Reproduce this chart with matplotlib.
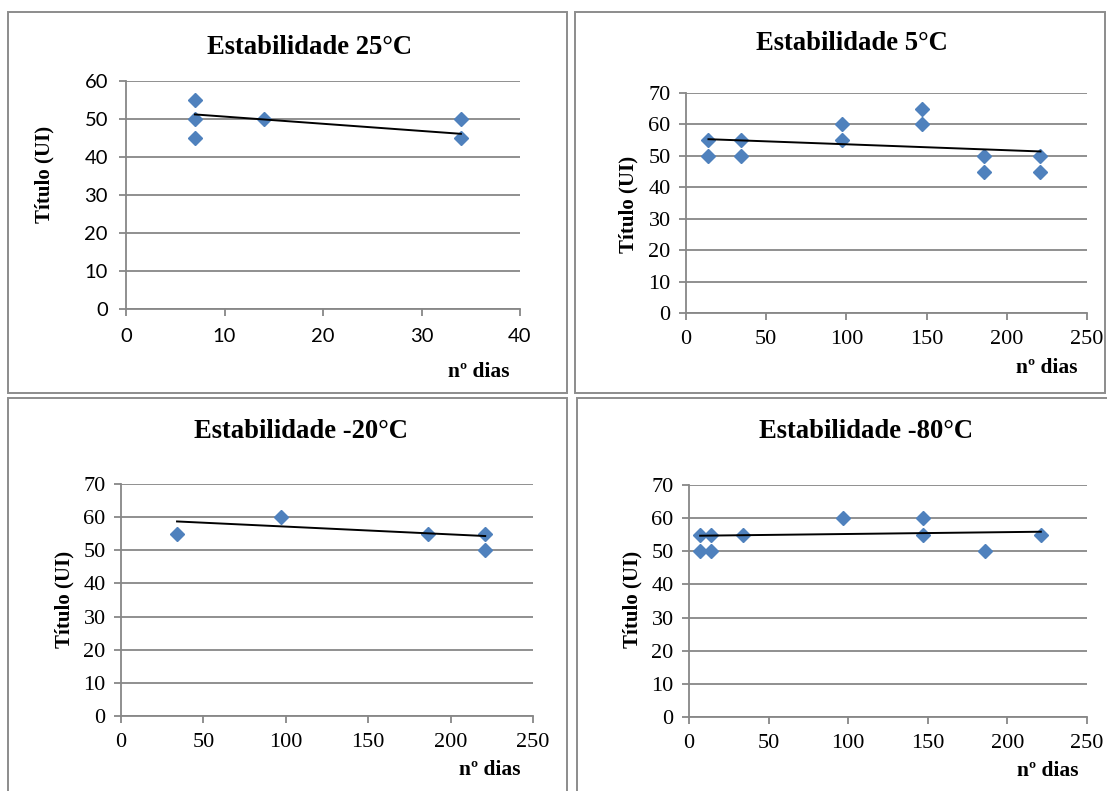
import matplotlib
matplotlib.use("Agg")
import matplotlib.pyplot as plt
from matplotlib.patches import Rectangle

# ---------------- data ----------------
titles = ["Estabilidade 25°C", "Estabilidade 5°C", "Estabilidade -20°C", "Estabilidade -80°C"]
ylabel = "Título (UI)"
xlabel = "nº dias"

x25 = [7, 7, 7, 14, 34, 34]
y25 = [55, 50, 45, 50, 50, 45]
trend25_x = [7, 34]
trend25_y = [51.2, 46.1]

x5 = [14, 14, 34, 34, 97, 97, 147, 147, 186, 186, 221, 221]
y5 = [55, 50, 55, 50, 60, 55, 65, 60, 50, 45, 50, 45]
trend5_x = [14, 221]
trend5_y = [55.3, 51.4]

xm20 = [34, 97, 186, 221, 221]
ym20 = [55, 60, 55, 55, 50]
trendm20_x = [34, 221]
trendm20_y = [58.7, 54.3]

xm80 = [7, 7, 14, 14, 34, 97, 147, 147, 186, 221]
ym80 = [55, 50, 55, 50, 55, 60, 60, 55, 50, 55]
trendm80_x = [7, 221]
trendm80_y = [54.7, 55.9]

xmax = [40, 250, 250, 250]
xstep = [10, 50, 50, 50]
ymax = [60, 70, 70, 70]
ystep = [10, 10, 10, 10]

# ---------------- layout (pixels) ----------------
W, H = 1107, 791
fig = plt.figure(figsize=(W / 100, H / 100), dpi=100)
fig.patch.set_facecolor("white")

def fx(px):
    return px / W

def fy(py):
    return 1 - py / H

# axes boxes: left, right, top, bottom in pixels
axes_px = [(126, 520, 81, 309), (686, 1087, 93, 313), (121, 533, 484, 716), (689, 1087, 485, 717)]
title_pos = [(310, 47), (852, 43), (301, 432), (866, 432)]
ylab_pos = [(44, 174), (628, 204), (64, 599), (632, 599)]
xlab_pos = [(479, 372), (1047, 368), (490, 770), (1048, 771)]
boxes = [(8, 12, 567, 393), (575, 12, 1105, 393), (8, 398, 567, 800), (577, 398, 1110, 800)]

GRID = "#878787"
BLUE = "#4F81BD"
SERIF = "Liberation Serif"

for (l, t, r, b) in boxes:
    fig.patches.append(Rectangle((fx(l), fy(b)), fx(r) - fx(l), fy(t) - fy(b),
                                 transform=fig.transFigure, fill=False,
                                 edgecolor="#8c8c8c", linewidth=1.4, zorder=0))

data = [(x25, y25, trend25_x, trend25_y), (x5, y5, trend5_x, trend5_y),
        (xm20, ym20, trendm20_x, trendm20_y), (xm80, ym80, trendm80_x, trendm80_y)]

for i, (xs, ys, tx, ty) in enumerate(data):
    l, r, t, b = axes_px[i]
    ax = fig.add_axes([fx(l), fy(b), fx(r) - fx(l), fy(t) - fy(b)])
    ax.set_facecolor("none")
    ax.set_xlim(0, xmax[i])
    ax.set_ylim(0, ymax[i])
    ax.set_xticks(list(range(0, xmax[i] + 1, xstep[i])))
    ax.set_yticks(list(range(0, ymax[i] + 1, ystep[i])))
    ax.grid(axis="y", color=GRID, linewidth=1.3, zorder=0)
    ax.set_axisbelow(True)
    for s in ["top", "right"]:
        ax.spines[s].set_visible(False)
    for s in ["left", "bottom"]:
        ax.spines[s].set_color(GRID)
        ax.spines[s].set_linewidth(1.3)
    ax.tick_params(axis="both", direction="out", length=5, width=1.3, color=GRID)
    if i == 0:
        ax.tick_params(axis="y", pad=8)
        ax.tick_params(axis="x", pad=9)
        for lab in ax.get_xticklabels() + ax.get_yticklabels():
            lab.set_fontfamily("Lato")
            lab.set_fontsize(14.5)
    else:
        ax.tick_params(axis="y", pad=6)
        ax.tick_params(axis="x", pad=7)
        for lab in ax.get_xticklabels() + ax.get_yticklabels():
            lab.set_fontfamily(SERIF)
            lab.set_fontsize(16)
    ax.plot(xs, ys, linestyle="none", marker="D", markersize=7.5,
            color=BLUE, markeredgecolor=BLUE, zorder=3, clip_on=False)
    ax.plot(tx, ty, color="black", linewidth=1.4, zorder=4)

    fig.text(fx(title_pos[i][0]), fy(title_pos[i][1]), titles[i], ha="center", va="center",
             fontfamily=SERIF, fontweight="bold", fontsize=19.2)
    fig.text(fx(ylab_pos[i][0]), fy(ylab_pos[i][1]), ylabel, ha="center", va="center",
             rotation=90, fontfamily=SERIF, fontweight="bold", fontsize=15)
    fig.text(fx(xlab_pos[i][0]), fy(xlab_pos[i][1]), xlabel, ha="center", va="center",
             fontfamily=SERIF, fontweight="bold", fontsize=15.5)

fig.savefig("out.png", dpi=100, facecolor="white")
